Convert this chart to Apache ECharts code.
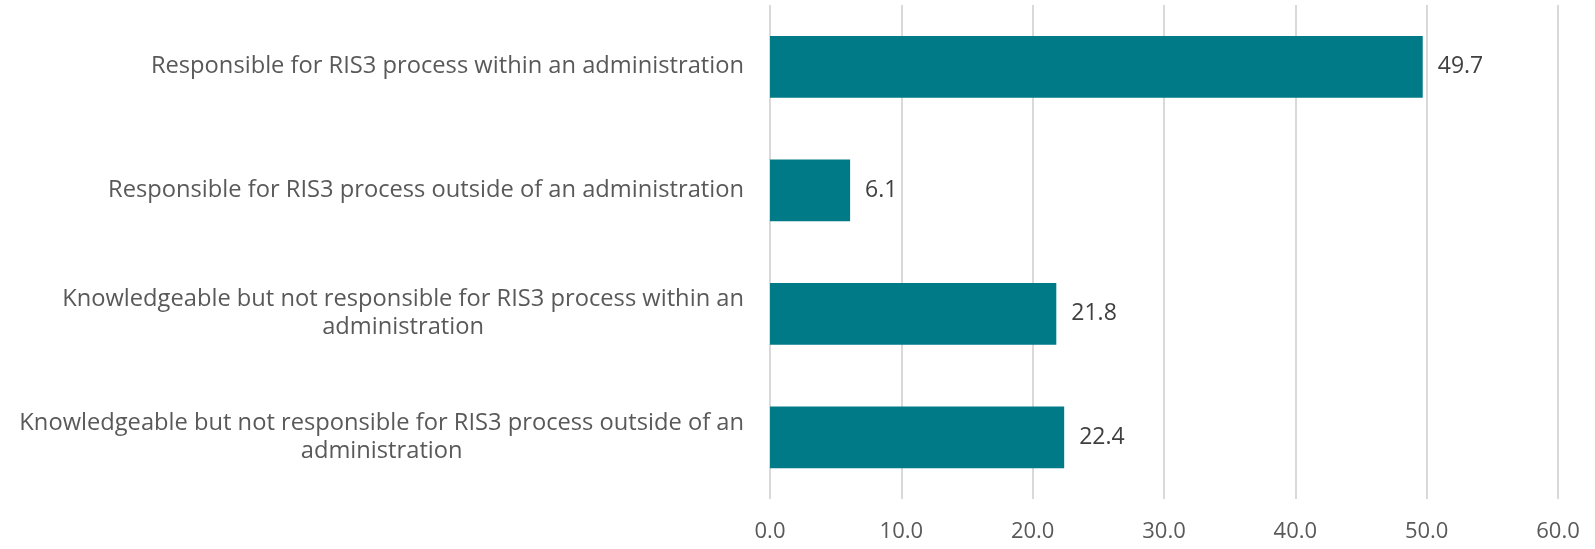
<!DOCTYPE html>
<html>
<head>
<meta charset="utf-8">
<script src="https://cdn.jsdelivr.net/npm/echarts@6/dist/echarts.min.js"></script>
<style>
html,body{margin:0;padding:0;background:#fff;}
#chart{width:1595px;height:549px;}
</style>
</head>
<body>
<div id="chart"></div>
<script>
const categories = [
  "Responsible for RIS3 process within an administration",
  "Responsible for RIS3 process outside of an administration",
  "Knowledgeable but not responsible for RIS3 process within an\nadministration",
  "Knowledgeable but not responsible for RIS3 process outside of an\nadministration"
];
const values = [49.7, 6.1, 21.8, 22.4];
const xTicks = [0, 10, 20, 30, 40, 50, 60];

const FONT = "Open Sans";
const chart = echarts.init(document.getElementById('chart'), null, {renderer: 'canvas'});
chart.setOption({
  animation: false,
  grid: {left: 770, right: 37, top: 5, bottom: 50, containLabel: false},
  xAxis: {
    type: 'value',
    min: xTicks[0],
    max: xTicks[xTicks.length - 1],
    interval: xTicks[1] - xTicks[0],
    axisLine: {show: false},
    axisTick: {show: false},
    splitLine: {show: true, lineStyle: {color: '#d9d9d9', width: 2}},
    axisLabel: {
      color: '#595959', fontFamily: FONT, fontSize: 22, margin: 22,
      formatter: v => v.toFixed(1)
    }
  },
  yAxis: {
    type: 'category',
    inverse: true,
    data: categories,
    axisLine: {show: false},
    axisTick: {show: false},
    axisLabel: {
      color: '#595959', fontFamily: FONT, fontSize: 23.7, margin: 26,
      lineHeight: 28,
      formatter: v => v.split('\n').map(s => '{c|' + s + '}').join('\n'),
      rich: {c: {align: 'center', color: '#595959', fontFamily: FONT, fontSize: 23.7, lineHeight: 28}}
    }
  },
  series: [{
    type: 'bar',
    data: values,
    barCategoryGap: '50%',
    itemStyle: {color: '#007A87'},
    label: {
      show: true, position: 'right', distance: 15,
      color: '#404040', fontFamily: FONT, fontSize: 23,
      formatter: p => p.value.toFixed(1)
    }
  }]
});
</script>
</body>
</html>
